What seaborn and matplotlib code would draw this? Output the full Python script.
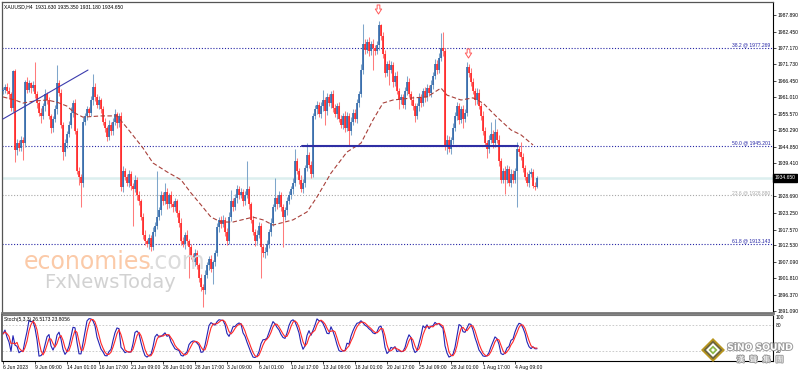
import numpy as np
import pandas as pd
import matplotlib
matplotlib.use("Agg")
import matplotlib.pyplot as plt
import matplotlib.patheffects as pe
from matplotlib.patches import Polygon
from matplotlib.path import Path
import seaborn as sns

# ---------------- data ----------------
closes = [
    1963.5, 1964.5, 1963.0, 1962.0, 1957.5, 1969.5, 1943.7, 1946.0, 1944.5, 1947.0,
    1946.0, 1966.0, 1963.5, 1965.5, 1964.0, 1965.0, 1962.0, 1959.0, 1956.0, 1955.0,
    1958.0, 1962.0, 1960.0, 1955.0, 1951.0, 1954.0, 1957.0, 1965.5, 1962.5, 1952.0,
    1943.0, 1946.0, 1949.0, 1952.0, 1956.0, 1959.0, 1950.0, 1937.0, 1935.0, 1933.0,
    1953.0, 1955.0, 1957.0, 1956.0, 1960.0, 1964.5, 1961.0, 1958.5, 1960.0, 1957.0,
    1953.0, 1951.0, 1948.0, 1952.0, 1950.0, 1953.0, 1955.5, 1952.5, 1955.0, 1931.5,
    1937.0, 1935.0, 1933.0, 1936.0, 1932.0, 1931.0, 1934.0, 1929.0, 1927.0, 1922.0,
    1916.0, 1914.0, 1913.0, 1915.0, 1912.0, 1917.0, 1919.0, 1922.0, 1924.0, 1929.0,
    1927.0, 1930.0, 1926.0, 1929.0, 1926.0, 1925.0, 1927.0, 1923.0, 1920.0, 1914.0,
    1913.0, 1916.0, 1914.0, 1912.0, 1909.0, 1907.0, 1910.0, 1906.0, 1902.0, 1899.0,
    1898.0, 1903.0, 1906.0, 1908.0, 1905.0, 1907.0, 1910.0, 1918.5, 1921.0, 1919.5,
    1921.0, 1917.0, 1914.0, 1922.0, 1927.0, 1925.0, 1928.0, 1931.0, 1929.0, 1930.0,
    1927.0, 1929.0, 1931.0, 1926.0, 1921.0, 1917.0, 1914.0, 1916.0, 1919.0, 1912.0,
    1910.0, 1910.5, 1913.0, 1917.0, 1920.0, 1925.0, 1928.0, 1926.0, 1929.0, 1925.0,
    1922.0, 1924.0, 1927.0, 1929.0, 1931.0, 1933.0, 1940.0, 1937.0, 1934.0, 1931.0,
    1933.0, 1938.0, 1942.0, 1939.0, 1936.0, 1955.0, 1957.0, 1958.5, 1955.5, 1958.0,
    1960.0, 1956.5, 1961.0, 1959.0, 1962.0, 1957.5, 1955.5, 1958.0, 1954.0, 1952.0,
    1955.0, 1951.0, 1955.0, 1950.0, 1953.0, 1956.0, 1954.0, 1959.0, 1962.0, 1970.0,
    1978.5, 1976.5, 1979.0, 1976.0, 1978.5, 1977.0, 1976.0, 1978.0, 1984.5, 1981.0,
    1975.0, 1969.0, 1972.0, 1970.0, 1971.5, 1966.0, 1968.0, 1963.0, 1960.0, 1961.0,
    1958.5, 1963.0, 1966.0, 1962.0, 1960.0, 1958.0, 1955.0, 1958.0, 1961.0, 1959.0,
    1963.0, 1961.0, 1964.0, 1962.5, 1965.0, 1968.0, 1972.0, 1970.0, 1974.0, 1977.0,
    1976.0, 1945.0, 1947.0, 1944.0, 1947.0, 1951.0, 1955.0, 1958.0, 1953.5, 1957.0,
    1954.0, 1956.0, 1971.0, 1969.0, 1966.0, 1963.0, 1960.0, 1962.5, 1958.0, 1955.0,
    1950.0, 1946.0, 1944.0, 1947.0, 1949.0, 1946.0, 1949.5, 1947.0, 1940.0, 1934.0,
    1937.0, 1934.0, 1937.5, 1933.0, 1936.0, 1934.0, 1937.0, 1944.0, 1943.0, 1941.5,
    1938.0, 1935.0, 1933.0, 1936.0, 1936.5, 1932.0, 1931.63, 1934.65,
]
first_open = 1963.0

upper_wick = [
    1.0, 0.8, 1.2, 1.5, 0.6, 0.5, 0.8, 1.2, 1.0, 1.4, 1.0, 0.8, 1.5, 1.0, 0.6, 1.2, 7.5, 1.0, 0.8, 1.4,
    1.0, 1.6, 0.8, 1.2, 0.5, 1.0, 1.5, 6.0, 1.0, 1.2, 0.8, 1.5, 1.0, 1.2, 1.8, 1.0, 1.5, 0.8, 1.2, 1.0,
    1.5, 1.0, 1.2, 0.8, 1.5, 4.0, 1.0, 1.2, 1.5, 0.8, 1.0, 1.2, 0.6, 1.4, 1.0, 1.2, 1.5, 0.8, 1.0, 1.2,
    1.5, 1.0, 0.8, 1.2, 1.0, 0.8, 1.5, 1.0, 1.2, 0.8, 1.0, 1.5, 0.6, 1.2, 1.0, 1.5, 1.2, 15.0, 1.0, 1.4,
    1.0, 3.0, 1.2, 0.8, 1.5, 1.0, 1.2, 0.8, 1.0, 1.5, 1.2, 1.0, 1.5, 0.8, 1.0, 1.2, 1.5, 1.0, 0.8, 1.2,
    1.0, 1.5, 1.2, 1.0, 1.4, 0.8, 1.2, 1.5, 1.0, 1.2, 1.5, 1.0, 1.2, 1.5, 3.7, 1.0, 1.5, 1.2, 1.0, 1.4,
    1.0, 1.2, 9.0, 1.0, 0.8, 1.2, 1.0, 1.5, 1.2, 0.8, 1.0, 1.5, 1.2, 1.0, 1.5, 1.2, 6.5, 1.0, 1.5, 1.0,
    1.2, 1.0, 1.5, 1.2, 1.0, 1.5, 4.0, 1.2, 1.0, 1.5, 1.2, 1.0, 4.0, 1.2, 1.0, 1.0, 1.5, 1.2, 1.0, 1.5,
    3.3, 1.0, 1.5, 1.2, 1.0, 1.5, 1.2, 1.0, 1.5, 1.2, 1.0, 1.5, 1.2, 1.0, 1.5, 1.2, 1.0, 1.5, 1.2, 2.0,
    6.5, 1.5, 1.2, 1.8, 1.0, 1.5, 1.2, 1.5, 1.5, 0.5, 1.2, 1.5, 1.0, 1.2, 1.5, 1.0, 1.2, 1.5, 1.0, 1.2,
    1.2, 1.5, 2.0, 1.2, 1.0, 1.5, 1.2, 1.0, 1.5, 1.2, 1.0, 1.5, 1.2, 1.0, 1.5, 1.2, 1.5, 1.2, 1.5, 5.0,
    5.5, 1.0, 1.5, 1.2, 1.0, 1.5, 1.2, 1.5, 1.0, 1.2, 1.5, 1.2, 1.5, 1.0, 1.5, 1.2, 1.0, 1.5, 1.2, 1.0,
    1.5, 1.2, 1.0, 1.5, 4.0, 1.2, 4.5, 1.0, 1.5, 1.2, 1.0, 1.5, 1.2, 1.0, 1.5, 1.2, 1.0, 2.5, 1.2, 3.5,
    1.2, 1.0, 1.5, 1.2, 1.5, 1.0, 1.2, 0.7,
]
lower_wick = [
    1.0, 1.2, 0.8, 1.5, 1.0, 1.2, 3.9, 1.5, 1.2, 1.0, 5.5, 1.2, 1.0, 0.8, 1.5, 1.0, 1.2, 1.5, 1.0, 2.5,
    1.0, 1.5, 1.2, 1.0, 1.7, 1.2, 1.0, 1.5, 1.2, 1.0, 2.6, 1.2, 1.5, 1.0, 1.2, 1.5, 1.0, 1.2, 2.8, 8.0,
    1.2, 1.0, 1.5, 1.2, 1.0, 1.5, 1.2, 1.0, 1.5, 1.2, 1.0, 1.5, 1.2, 1.0, 1.5, 1.2, 1.0, 1.5, 1.2, 1.0,
    1.5, 1.2, 1.0, 1.5, 1.2, 12.0, 1.0, 1.5, 1.2, 1.0, 1.5, 1.2, 1.0, 1.5, 1.2, 1.0, 1.5, 1.2, 1.0, 1.5,
    1.2, 1.0, 1.5, 1.2, 1.0, 1.5, 1.2, 1.0, 1.5, 1.2, 1.0, 1.5, 1.2, 10.0, 1.0, 1.5, 1.2, 1.0, 1.5, 1.2,
    5.5, 1.2, 1.0, 1.5, 1.2, 5.0, 1.2, 1.0, 1.5, 1.2, 1.0, 1.5, 1.2, 1.0, 1.5, 1.2, 1.0, 1.5, 1.2, 1.0,
    1.5, 1.2, 1.0, 1.5, 1.2, 1.0, 1.5, 1.2, 1.0, 10.0, 1.2, 1.5, 1.0, 1.2, 1.5, 1.0, 1.2, 1.5, 1.0, 1.2,
    10.0, 1.2, 1.5, 1.0, 1.2, 1.5, 1.0, 1.2, 1.5, 1.0, 1.2, 1.5, 1.0, 1.2, 1.5, 1.0, 1.2, 1.5, 1.0, 1.2,
    1.5, 4.5, 1.2, 1.0, 1.5, 1.2, 1.0, 1.5, 1.2, 1.0, 1.5, 1.2, 1.0, 4.7, 1.5, 1.2, 1.0, 1.5, 1.2, 1.0,
    1.5, 1.2, 1.0, 1.5, 1.2, 7.0, 1.2, 1.0, 1.5, 1.2, 1.0, 1.5, 1.2, 5.0, 1.0, 1.5, 1.2, 1.0, 3.0, 1.2,
    1.0, 1.5, 1.2, 1.0, 1.5, 1.2, 2.0, 1.0, 1.5, 1.2, 1.0, 1.5, 1.2, 1.0, 1.5, 1.2, 1.0, 1.5, 1.2, 1.0,
    1.5, 1.2, 2.5, 1.0, 1.5, 1.2, 1.0, 1.5, 1.2, 1.0, 3.0, 1.2, 1.0, 1.5, 1.2, 1.0, 1.5, 1.2, 1.0, 1.5,
    1.2, 1.0, 3.0, 1.2, 1.0, 1.5, 1.2, 1.0, 1.5, 1.2, 1.0, 4.5, 1.2, 1.0, 1.5, 1.2, 1.0, 12.0, 1.2, 1.0,
    1.5, 1.2, 1.0, 1.5, 1.2, 0.7, 1.0, 0.45,
]

ma_idx = [0, 6, 10, 16, 22, 27, 32, 36, 40, 49, 57, 62, 70, 75, 82, 89, 94, 99, 104, 109,
          115, 125, 130, 135, 145, 152, 157, 164, 172, 179, 185, 190, 195, 205, 212, 219,
          222, 229, 235, 240, 247, 254, 259, 265]
ma_val = [1961.1, 1960.1, 1959.1, 1959.8, 1960.1, 1959.4, 1958.1, 1955.8, 1954.5, 1954.9,
          1954.9, 1951.0, 1944.4, 1939.5, 1936.6, 1934.0, 1929.7, 1925.8, 1921.8, 1920.2,
          1920.2, 1921.8, 1920.9, 1919.2, 1920.9, 1923.5, 1928.4, 1936.2, 1943.1, 1946.0,
          1953.6, 1959.1, 1960.1, 1960.8, 1961.1, 1964.0, 1961.7, 1960.1, 1960.8, 1959.1,
          1954.5, 1950.3, 1948.7, 1945.4]

price_ticks = [1987.89, 1982.45, 1977.17, 1971.73, 1966.45, 1961.01, 1955.57, 1950.29,
               1944.85, 1939.41, 1928.69, 1923.25, 1917.57, 1912.53, 1907.09, 1901.81,
               1896.37, 1891.09]
x_tick_labels = ["6 Jun 2023", "9 Jun 09:00", "14 Jun 01:00", "16 Jun 17:00", "21 Jun 09:00",
                 "26 Jun 01:00", "28 Jun 17:00", "3 Jul 09:00", "6 Jul 01:00", "10 Jul 17:00",
                 "13 Jul 09:00", "18 Jul 01:00", "20 Jul 17:00", "25 Jul 09:00", "28 Jul 01:00",
                 "1 Aug 17:00", "4 Aug 09:00"]
x_tick_step = 16

fib_levels = [1977.269, 1945.201, 1928.88, 1913.143]
fib_labels = ["38.2 @ 1977.269", "50.0 @ 1945.201", "23.6 @ 1928.880", "61.8 @ 1913.143"]
fib_colors = ["#2626a6", "#2626a6", "#a8a8a8", "#2626a6"]
last_price = 1934.65
support_level = 1945.2
support_span = [149.5, 257.5]
trend_idx = [0, 42.5]
trend_val = [1953.9, 1969.9]
arrow_idx = [187.5, 232.5]
arrow_val = [1989.9, 1975.5]
title_text = "XAUUSD,H4  1931.630 1935.350 1931.180 1934.650"
stoch_text = "Stoch(5,3,3) 26.5173 23.8056"

# ---------------- derived ----------------
n = len(closes)
idx = np.arange(n)
c = np.array(closes)
o = np.array([first_open] + closes[:-1])
hi = np.maximum(o, c) + np.array(upper_wick)
lo = np.minimum(o, c) - np.array(lower_wick)
bull = c >= o

df = pd.DataFrame({"i": idx, "open": o, "close": c, "high": hi, "low": lo})
ll = df["low"].rolling(5, min_periods=1).min()
hh = df["high"].rolling(5, min_periods=1).max()
num = (df["close"] - ll).rolling(3, min_periods=1).sum()
den = (hh - ll).rolling(3, min_periods=1).sum()
df["K"] = 100 * num / den
df["D"] = df["K"].rolling(3, min_periods=1).mean()

# ---------------- figure ----------------
sns.set_theme(style="white")
plt.rcParams["font.family"] = ["Liberation Sans", "DejaVu Sans"]
FS = 3.6
W, H = 798, 372
fig = plt.figure(figsize=(W / 100, H / 100), dpi=100)
fig.patch.set_facecolor("white")

def fx(px):
    return px / W

def fy(py):
    return 1 - py / H

ax = fig.add_axes([fx(2), fy(313), fx(773) - fx(2), fy(2) - fy(313)])
ax2 = fig.add_axes([fx(2), fy(361), fx(773) - fx(2), fy(315) - fy(361)], sharex=ax)

XMIN, XMAX = -0.5, 385.0
ax.set_xlim(XMIN, XMAX)
ax.set_ylim(1890.45, 1992.15)

# last price line
ax.axhline(last_price, color="#dcefef", lw=1.8, zorder=1)
# fib levels
for lv, lab, col in zip(fib_levels, fib_labels, fib_colors):
    ax.axhline(lv, color=col, lw=0.8, ls=(0, (1, 1.6)), zorder=2)
    ax.annotate(lab, xy=(0.997, lv), xycoords=("axes fraction", "data"),
                xytext=(0, 0.3), textcoords="offset points",
                ha="right", va="bottom", fontsize=FS, color=col, zorder=6)

# candles
wick_col = np.where(bull, "#7fa6cb", "#ff7b7b")
body_col = np.where(bull, "#2a62a6", "#ff1c1c")
ax.vlines(idx, lo, hi, colors=wick_col, lw=0.75, zorder=3)
ax.vlines(idx, np.minimum(o, c), np.maximum(o, c), colors=body_col, lw=1.15, zorder=4)

# moving average (dashed)
sns.lineplot(x=ma_idx, y=ma_val, ax=ax, color="#a8403a", lw=0.8,
             linestyle=(0, (4, 2.2)), zorder=5, legend=False)

# support line and trend line
sns.lineplot(x=support_span, y=[support_level, support_level], ax=ax, color="#2e2ea4",
             lw=1.5, zorder=5, legend=False)
sns.lineplot(x=trend_idx, y=trend_val, ax=ax, color="#3c3cae", lw=0.8, zorder=5,
             legend=False)

# fractal arrows (hollow down arrows)
arrow_path = Path([(-0.3, 1.0), (0.3, 1.0), (0.3, 0.1), (0.7, 0.1), (0.0, -1.0),
                   (-0.7, 0.1), (-0.3, 0.1), (-0.3, 1.0)], closed=True)
ax.plot(arrow_idx, arrow_val, ls="none", marker=arrow_path, ms=6.5, mfc="white",
        mec="#ff5a5a", mew=0.7, zorder=6)

# price axis
ax.yaxis.tick_right()
ax.set_yticks(price_ticks)
ax.set_yticklabels([f"{v:.3f}" for v in price_ticks])
ax.tick_params(axis="y", labelsize=FS, length=2, width=0.5, pad=1.2, colors="black",
               right=True, left=False)
ax.tick_params(axis="x", bottom=False, labelbottom=False)
ax.set_xlabel("")
ax.set_ylabel("")
for s in ["top", "left"]:
    ax.spines[s].set_color("#555555")
    ax.spines[s].set_linewidth(0.9)
ax.spines["right"].set_color("black")
ax.spines["right"].set_linewidth(0.8)
ax.spines["bottom"].set_color("#777777")
ax.spines["bottom"].set_linewidth(2.0)

# price tag
ax.annotate(f"{last_price:.3f}", xy=(1.0, last_price), xycoords=("axes fraction", "data"),
            xytext=(1.0, 0), textcoords="offset points", ha="left", va="center",
            fontsize=FS, color="white", zorder=10, annotation_clip=False,
            bbox=dict(boxstyle="square,pad=0.3", fc="black", ec="black"))

# ---------------- stochastic panel ----------------
ax2.set_ylim(-3, 104)
ax2.axhline(80, color="#c4c4c4", lw=0.6, ls=(0, (2, 2)))
ax2.axhline(20, color="#c4c4c4", lw=0.6, ls=(0, (2, 2)))
sns.lineplot(data=df, x="i", y="K", ax=ax2, color="#2424b4", lw=0.8, legend=False)
sns.lineplot(data=df, x="i", y="D", ax=ax2, color="#ff2828", lw=0.8, legend=False)
ax2.yaxis.tick_right()
ax2.set_yticks([0, 20, 80, 100])
ax2.set_yticklabels(["0", "20", "80", "100"])
ax2.tick_params(axis="y", labelsize=FS, length=0, pad=2, colors="black", right=True,
                left=False)
ax2.set_xticks(np.arange(len(x_tick_labels)) * x_tick_step)
ax2.set_xticklabels(x_tick_labels, ha="left")
ax2.tick_params(axis="x", labelsize=FS, length=2, width=0.5, pad=1.2, colors="black",
                bottom=True)
ax2.set_xlim(XMIN, XMAX)
ax2.set_xlabel("")
ax2.set_ylabel("")
ax2.spines["left"].set_color("#555555")
ax2.spines["top"].set_color("#777777")
ax2.spines["top"].set_linewidth(0.8)
ax2.spines["right"].set_color("black")
ax2.spines["bottom"].set_color("black")
ax2.spines["right"].set_linewidth(0.8)
ax2.spines["bottom"].set_linewidth(0.8)
ax2.text(0.003, 0.96, stoch_text, transform=ax2.transAxes, ha="left", va="top",
         fontsize=FS, color="black")

# title
fig.text(fx(4), fy(6.5), title_text, ha="left", va="center", fontsize=FS, color="black")

# ---------------- watermarks ----------------
fig.text(fx(24), fy(262), "economies", ha="left", va="center", fontsize=17,
         color="#fbcaa8", family="DejaVu Sans")
fig.text(fx(148), fy(262), ".com", ha="left", va="center", fontsize=17,
         color="#dcdcdc", family="DejaVu Sans")
fig.text(fx(44), fy(283), "FxNewsToday", ha="left", va="center", fontsize=14,
         color="#d2d2d2", family="DejaVu Sans")

# SINO SOUND logo
cx, cy = 713, 350
for size, colr in [(12, "#b8961e"), (9.5, "#6a6440"), (7, "#ffffff"), (4.5, "#8bb84a"), (2, "#ffffff")]:
    pts = [(fx(cx), fy(cy - size)), (fx(cx + size), fy(cy)), (fx(cx), fy(cy + size)),
           (fx(cx - size), fy(cy))]
    fig.patches.append(Polygon(pts, closed=True, transform=fig.transFigure, fc=colr,
                               ec="none", zorder=20))
stroke = [pe.withStroke(linewidth=1.4, foreground="#9a9a9a")]
fig.text(fx(760), fy(347.5), "SiNO SOUND", ha="center", va="center", fontsize=6.6,
         weight="bold", color="white", path_effects=stroke, zorder=21,
         family="DejaVu Sans")
fig.text(fx(760), fy(360), "漢   聲   集   團", ha="center", va="center", fontsize=5.6,
         color="white", path_effects=stroke, zorder=21,
         family=["Noto Sans CJK TC", "DejaVu Sans"])

fig.savefig("out.png", dpi=100, facecolor="white")
